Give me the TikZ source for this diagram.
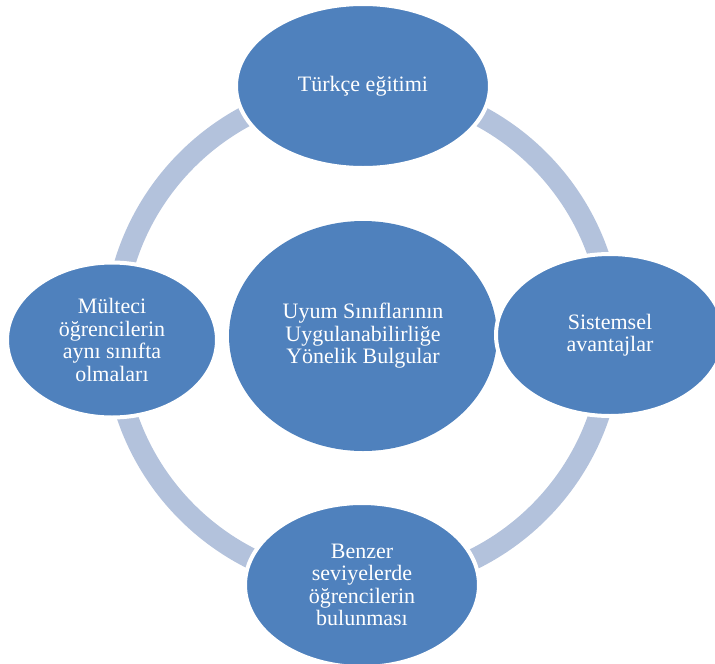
\documentclass[tikz,border=0pt]{standalone}
\usepackage{fontspec}
\setmainfont{Liberation Serif}
\usetikzlibrary{shapes.geometric}
\definecolor{bubbleblue}{HTML}{4F81BD}
\definecolor{ringblue}{HTML}{B3C2DC}

\begin{document}
\begin{tikzpicture}[
    x=1pt, y=-1pt,
    bubble/.style={ellipse, fill=bubbleblue, draw=white, line width=4pt,
                   inner sep=0pt, align=center, text=white,
                   font=\fontsize{22}{22.5}\selectfont},
    hub/.style={bubble, draw=none},
    ring/.style={draw=ringblue, line width=21pt}
  ]
  \useasboundingbox (0,0) rectangle (715,664);

  \node[hub, minimum width=268pt, minimum height=230pt] (hub) at (363,336)
    {Uyum Sınıflarının\\Uygulanabilirliğe\\Yönelik Bulgular};

  % ring behind the outer bubbles
  \draw[ring] (hub.center) circle (249pt);

  \node[bubble, minimum width=254pt, minimum height=164pt] (top) at (363,86)
    {Türkçe eğitimi};
  \node[bubble, minimum width=228pt, minimum height=162pt] (right) at (610,335)
    {Sistemsel\\avantajlar};
  \node[bubble, minimum width=234pt, minimum height=164pt] (bottom) at (362,585)
    {Benzer\\seviyelerde\\öğrencilerin\\bulunması};
  \node[bubble, minimum width=210pt, minimum height=155pt] (left) at (112,340)
    {Mülteci\\öğrencilerin\\aynı sınıfta\\olmaları};
\end{tikzpicture}
\end{document}
